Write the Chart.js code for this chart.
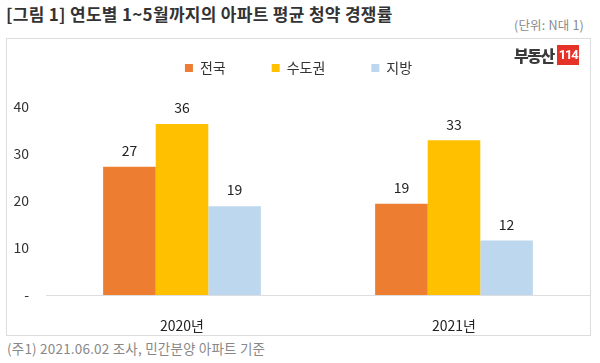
<!DOCTYPE html>
<html>
<head>
<meta charset="utf-8">
<script src="https://cdn.jsdelivr.net/npm/chart.js@4/dist/chart.umd.min.js"></script>
<style>
  html, body { margin:0; padding:0; background:#fff; }
  body { width:600px; height:363px; position:relative; overflow:hidden; font-family:"Noto Sans CJK KR", "Noto Sans", sans-serif; }
  #title { position:absolute; left:6px; top:2px; font-size:17px; font-weight:700; color:#333; line-height:24px; white-space:nowrap; letter-spacing:0.3px; }
  #unit { position:absolute; right:16px; top:16px; font-size:12.5px; color:#8a8a8a; line-height:18px; white-space:nowrap; letter-spacing:0.2px; }
  #box { position:absolute; left:6px; top:38px; width:585px; height:298px; border:1px solid #dcdcdc; box-sizing:border-box; }
  #wrap { position:absolute; left:7px; top:39px; width:583px; height:296px; }
  #logo { position:absolute; left:514px; top:45px; height:20px; white-space:nowrap; }
  #logo .t { display:inline-block; vertical-align:top; font-size:16px; font-weight:900; color:#3a3a3a; line-height:20px; letter-spacing:-1.5px; }
  #logo .r { display:inline-block; vertical-align:top; margin-left:3px; background:#e63329; color:#fff; font-size:13px; font-weight:700; line-height:20px; height:20px; padding:0 2px; letter-spacing:-1.2px; font-family:"Liberation Sans Narrow","Roboto",sans-serif; }
  #note { position:absolute; left:7px; top:338px; font-size:13.5px; color:#888; line-height:20px; white-space:nowrap; letter-spacing:0.2px; }
</style>
</head>
<body>
<div id="title">[그림 1] 연도별 1~5월까지의 아파트 평균 청약 경쟁률</div>
<div id="unit">(단위: N대 1)</div>
<div id="box"></div>
<div id="wrap"><canvas id="c" width="583" height="296"></canvas></div>
<div id="logo"><span class="t">부동산</span><span class="r">114</span></div>
<div id="note">(주1) 2021.06.02 조사, 민간분양 아파트 기준</div>
<script>
const categories = ['2020년', '2021년'];
const seriesNames = ['전국', '수도권', '지방'];
const nationwide = [27.3, 19.4];
const capitalArea = [36.4, 32.9];
const provinces = [18.9, 11.6];
const yTicks = [0, 10, 20, 30, 40];
const yTickLabels = ['-', '10', '20', '30', '40'];

const FONT = '"Noto Sans CJK KR", "Noto Sans", sans-serif';

const legendFix = {
  id: 'legendFix',
  beforeInit(chart) {
    const orig = chart.legend.fit;
    chart.legend.fit = function () { orig.call(this); this.height = 68; };
  },
  afterLayout(chart) {
    chart.legend.top -= 24;
    chart.legend.bottom -= 24;
  }
};

const valueLabels = {
  id: 'valueLabels',
  afterDatasetsDraw(chart) {
    const ctx = chart.ctx;
    ctx.save();
    ctx.font = '14px ' + FONT;
    ctx.fillStyle = '#222';
    ctx.textAlign = 'center';
    ctx.textBaseline = 'middle';
    chart.data.datasets.forEach((ds, di) => {
      const meta = chart.getDatasetMeta(di);
      meta.data.forEach((bar, i) => {
        ctx.fillText(String(Math.round(ds.data[i])), bar.x, bar.y - 16);
      });
    });
    ctx.restore();
  }
};

new Chart(document.getElementById('c'), {
  type: 'bar',
  data: {
    labels: categories,
    datasets: [
      { label: seriesNames[0], data: nationwide, backgroundColor: '#ED7D31' },
      { label: seriesNames[1], data: capitalArea, backgroundColor: '#FFC000' },
      { label: seriesNames[2], data: provinces, backgroundColor: '#BDD7EE' }
    ]
  },
  options: {
    responsive: false,
    animation: false,
    devicePixelRatio: 1,
    layout: { padding: { left: 0, right: 0, top: 0, bottom: 0 } },
    datasets: { bar: { categoryPercentage: 0.58, barPercentage: 1.0 } },
    plugins: {
      tooltip: { enabled: false },
      legend: {
        position: 'top',
        align: 'center',
        labels: {
          boxWidth: 8, boxHeight: 8, padding: 46,
          color: '#333',
          font: { family: FONT, size: 14 }
        }
      }
    },
    scales: {
      x: {
        grid: { display: false },
        border: { display: true, color: '#dedede', width: 1 },
        ticks: { color: '#222', padding: 14, font: { family: FONT, size: 14 } },
        afterFit(scale) { scale.height = 40; }
      },
      y: {
        min: 0, max: 40,
        grid: { display: false, drawTicks: false },
        border: { display: false },
        afterBuildTicks(scale) { scale.ticks = yTicks.map(v => ({ value: v })); },
        ticks: {
          padding: 17,
          color: '#333',
          font: { family: FONT, size: 14 },
          callback(value) { const i = yTicks.indexOf(value); return i >= 0 ? yTickLabels[i] : ''; }
        },
        afterFit(scale) { scale.width = 39; }
      }
    }
  },
  plugins: [legendFix, valueLabels]
});
</script>
</body>
</html>
